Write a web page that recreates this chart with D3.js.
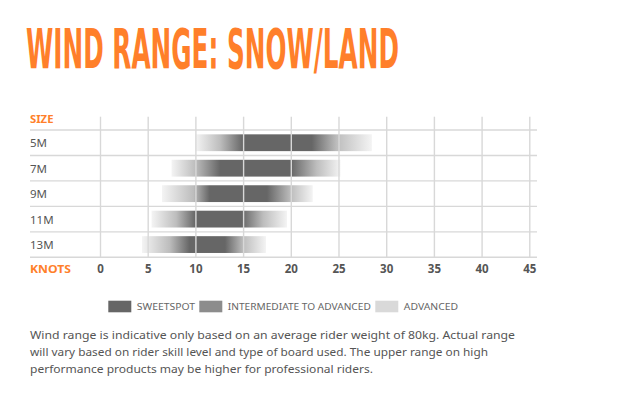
<!DOCTYPE html>
<html>
<head>
<meta charset="utf-8">
<script src="https://cdn.jsdelivr.net/npm/d3@7"></script>
<style>
  body { margin: 0; background: #fff; }
  svg { display: block; }
</style>
</head>
<body>
<svg id="chart" width="623" height="420"></svg>
<script>
// kite sizes and wind ranges (knots)
const sizes = ['5M', '7M', '9M', '11M', '13M'];
const advLow    = [10, 7.5, 6.5, 5.4, 4.4];
const intLow    = [12.6, 10, 9.8, 8, 7.3];
const sweetLow  = [15, 12.6, 11.5, 10, 9.4];
const sweetHigh = [22.2, 20, 17.5, 14.9, 13.1];
const intHigh   = [24.8, 22.7, 20, 17.1, 15];
const advHigh   = [28.5, 25.2, 22.3, 19.6, 17.4];

const knotTicks = [0, 5, 10, 15, 20, 25, 30, 35, 40, 45];
const legendLabels = ['SWEETSPOT', 'INTERMEDIATE TO ADVANCED', 'ADVANCED'];
const legendColors = ['#666666', '#8c8c8c', '#d9d9d9'];
const noteLines = [
  'Wind range is indicative only based on an average rider weight of 80kg. Actual range',
  'will vary based on rider skill level and type of board used. The upper range on high',
  'performance products may be higher for professional riders.'
];

const orange = '#ff7f2a';
const font = "'Noto Sans', sans-serif";

const svg = d3.select('#chart');

const x = d3.scaleLinear().domain([0, 45]).range([100, 529.3]);
const y = d3.scaleBand().domain(sizes).range([130, 257.3]).paddingInner(0.34).paddingOuter(0.17);
const rowY = d3.scaleBand().domain(sizes).range([130, 257.3]);

// title: fit a condensed font to the width, then stretch it to the cap height
const title = svg.append('text')
  .attr('x', 0).attr('y', 0)
  .attr('font-family', "'DejaVu Sans Condensed', 'Liberation Sans Narrow', sans-serif")
  .attr('font-weight', 'bold')
  .attr('font-size', 40)
  .attr('fill', orange)
  .text('WIND RANGE: SNOW/LAND');
const w40 = title.node().getComputedTextLength();
const fs = 40 * 373 / w40;
const sy = 40.5 / (0.729 * fs);
title.attr('font-size', fs)
  .attr('transform', 'translate(26,67.7) scale(1,' + sy + ')');

// gradients for the bars
const defs = svg.append('defs');
sizes.forEach((s, i) => {
  const x0 = x(advLow[i]), x1 = x(advHigh[i]);
  const off = (v) => (x(v) - x0) / (x1 - x0);
  const g = defs.append('linearGradient')
    .attr('id', 'grad' + i)
    .attr('gradientUnits', 'userSpaceOnUse')
    .attr('x1', x0).attr('x2', x1).attr('y1', 0).attr('y2', 0);
  const stops = [
    [0, '#f4f4f4'],
    [off(intLow[i]), '#bdbdbd'],
    [off(sweetLow[i]), '#666666'],
    [off(sweetHigh[i]), '#666666'],
    [off(intHigh[i]), '#bdbdbd'],
    [1, '#f4f4f4']
  ];
  stops.forEach(d => g.append('stop').attr('offset', d[0]).attr('stop-color', d[1]));
});

// bars
svg.append('g').selectAll('rect')
  .data(sizes)
  .join('rect')
  .attr('x', (d, i) => x(advLow[i]))
  .attr('width', (d, i) => x(advHigh[i]) - x(advLow[i]))
  .attr('y', d => y(d))
  .attr('height', y.bandwidth())
  .attr('fill', (d, i) => 'url(#grad' + i + ')');

// vertical grid
const grid = svg.append('g')
  .attr('transform', 'translate(0,257.3)')
  .call(d3.axisBottom(x).tickValues(knotTicks).tickSize(-140.6).tickFormat(''));
grid.select('.domain').remove();
grid.selectAll('line').attr('stroke', '#d8d8d8').attr('stroke-width', 1.4);

// horizontal lines
const hLines = sizes.map(d => rowY(d)).concat([257.3]);
svg.append('g').selectAll('line')
  .data(hLines)
  .join('line')
  .attr('x1', 30).attr('x2', 537)
  .attr('y1', d => d).attr('y2', d => d)
  .attr('stroke', '#d8d8d8').attr('stroke-width', 1.4);

// row labels
svg.append('g').selectAll('text')
  .data(sizes)
  .join('text')
  .attr('x', 30)
  .attr('y', d => rowY(d) + rowY.bandwidth() / 2 + 4.5)
  .attr('font-family', font).attr('font-size', 11.5)
  .attr('fill', '#555')
  .text(d => d);

svg.append('text')
  .attr('x', 30).attr('y', 123)
  .attr('font-family', font).attr('font-size', 10.5).attr('font-weight', 'bold')
  .attr('fill', orange)
  .attr('textLength', 23.5).attr('lengthAdjust', 'spacingAndGlyphs')
  .text('SIZE');

// knots axis
const ax = svg.append('g')
  .attr('transform', 'translate(0,260)')
  .call(d3.axisBottom(x).tickValues(knotTicks).tickSize(0).tickPadding(0));
ax.select('.domain').remove();
ax.selectAll('text')
  .attr('dy', '13.3')
  .attr('font-family', font).attr('font-size', 11.5).attr('font-weight', 'bold')
  .attr('fill', '#555');

svg.append('text')
  .attr('x', 30).attr('y', 273.3)
  .attr('font-family', font).attr('font-size', 10.5).attr('font-weight', 'bold')
  .attr('fill', orange)
  .attr('textLength', 41).attr('lengthAdjust', 'spacingAndGlyphs')
  .text('KNOTS');

// legend
const legendX = [108.3, 199.3, 375.3];
const legendW = [58.3, 143, 54.3];
const legend = svg.append('g').selectAll('g')
  .data(legendLabels)
  .join('g')
  .attr('transform', (d, i) => 'translate(' + legendX[i] + ',300.7)');
legend.append('rect')
  .attr('width', 23).attr('height', 11.6)
  .attr('fill', (d, i) => legendColors[i]);
legend.append('text')
  .attr('x', 28.5).attr('y', 9.6)
  .attr('font-family', font).attr('font-size', 9.5)
  .attr('fill', '#666')
  .attr('textLength', (d, i) => legendW[i]).attr('lengthAdjust', 'spacingAndGlyphs')
  .text(d => d);

// footnote
const noteW = [485, 458, 343];
svg.append('g').selectAll('text')
  .data(noteLines)
  .join('text')
  .attr('x', 30)
  .attr('y', (d, i) => 339.3 + i * 16.9)
  .attr('font-family', font).attr('font-size', 11.5)
  .attr('fill', '#555')
  .attr('textLength', (d, i) => noteW[i]).attr('lengthAdjust', 'spacingAndGlyphs')
  .text(d => d);
</script>
</body>
</html>
